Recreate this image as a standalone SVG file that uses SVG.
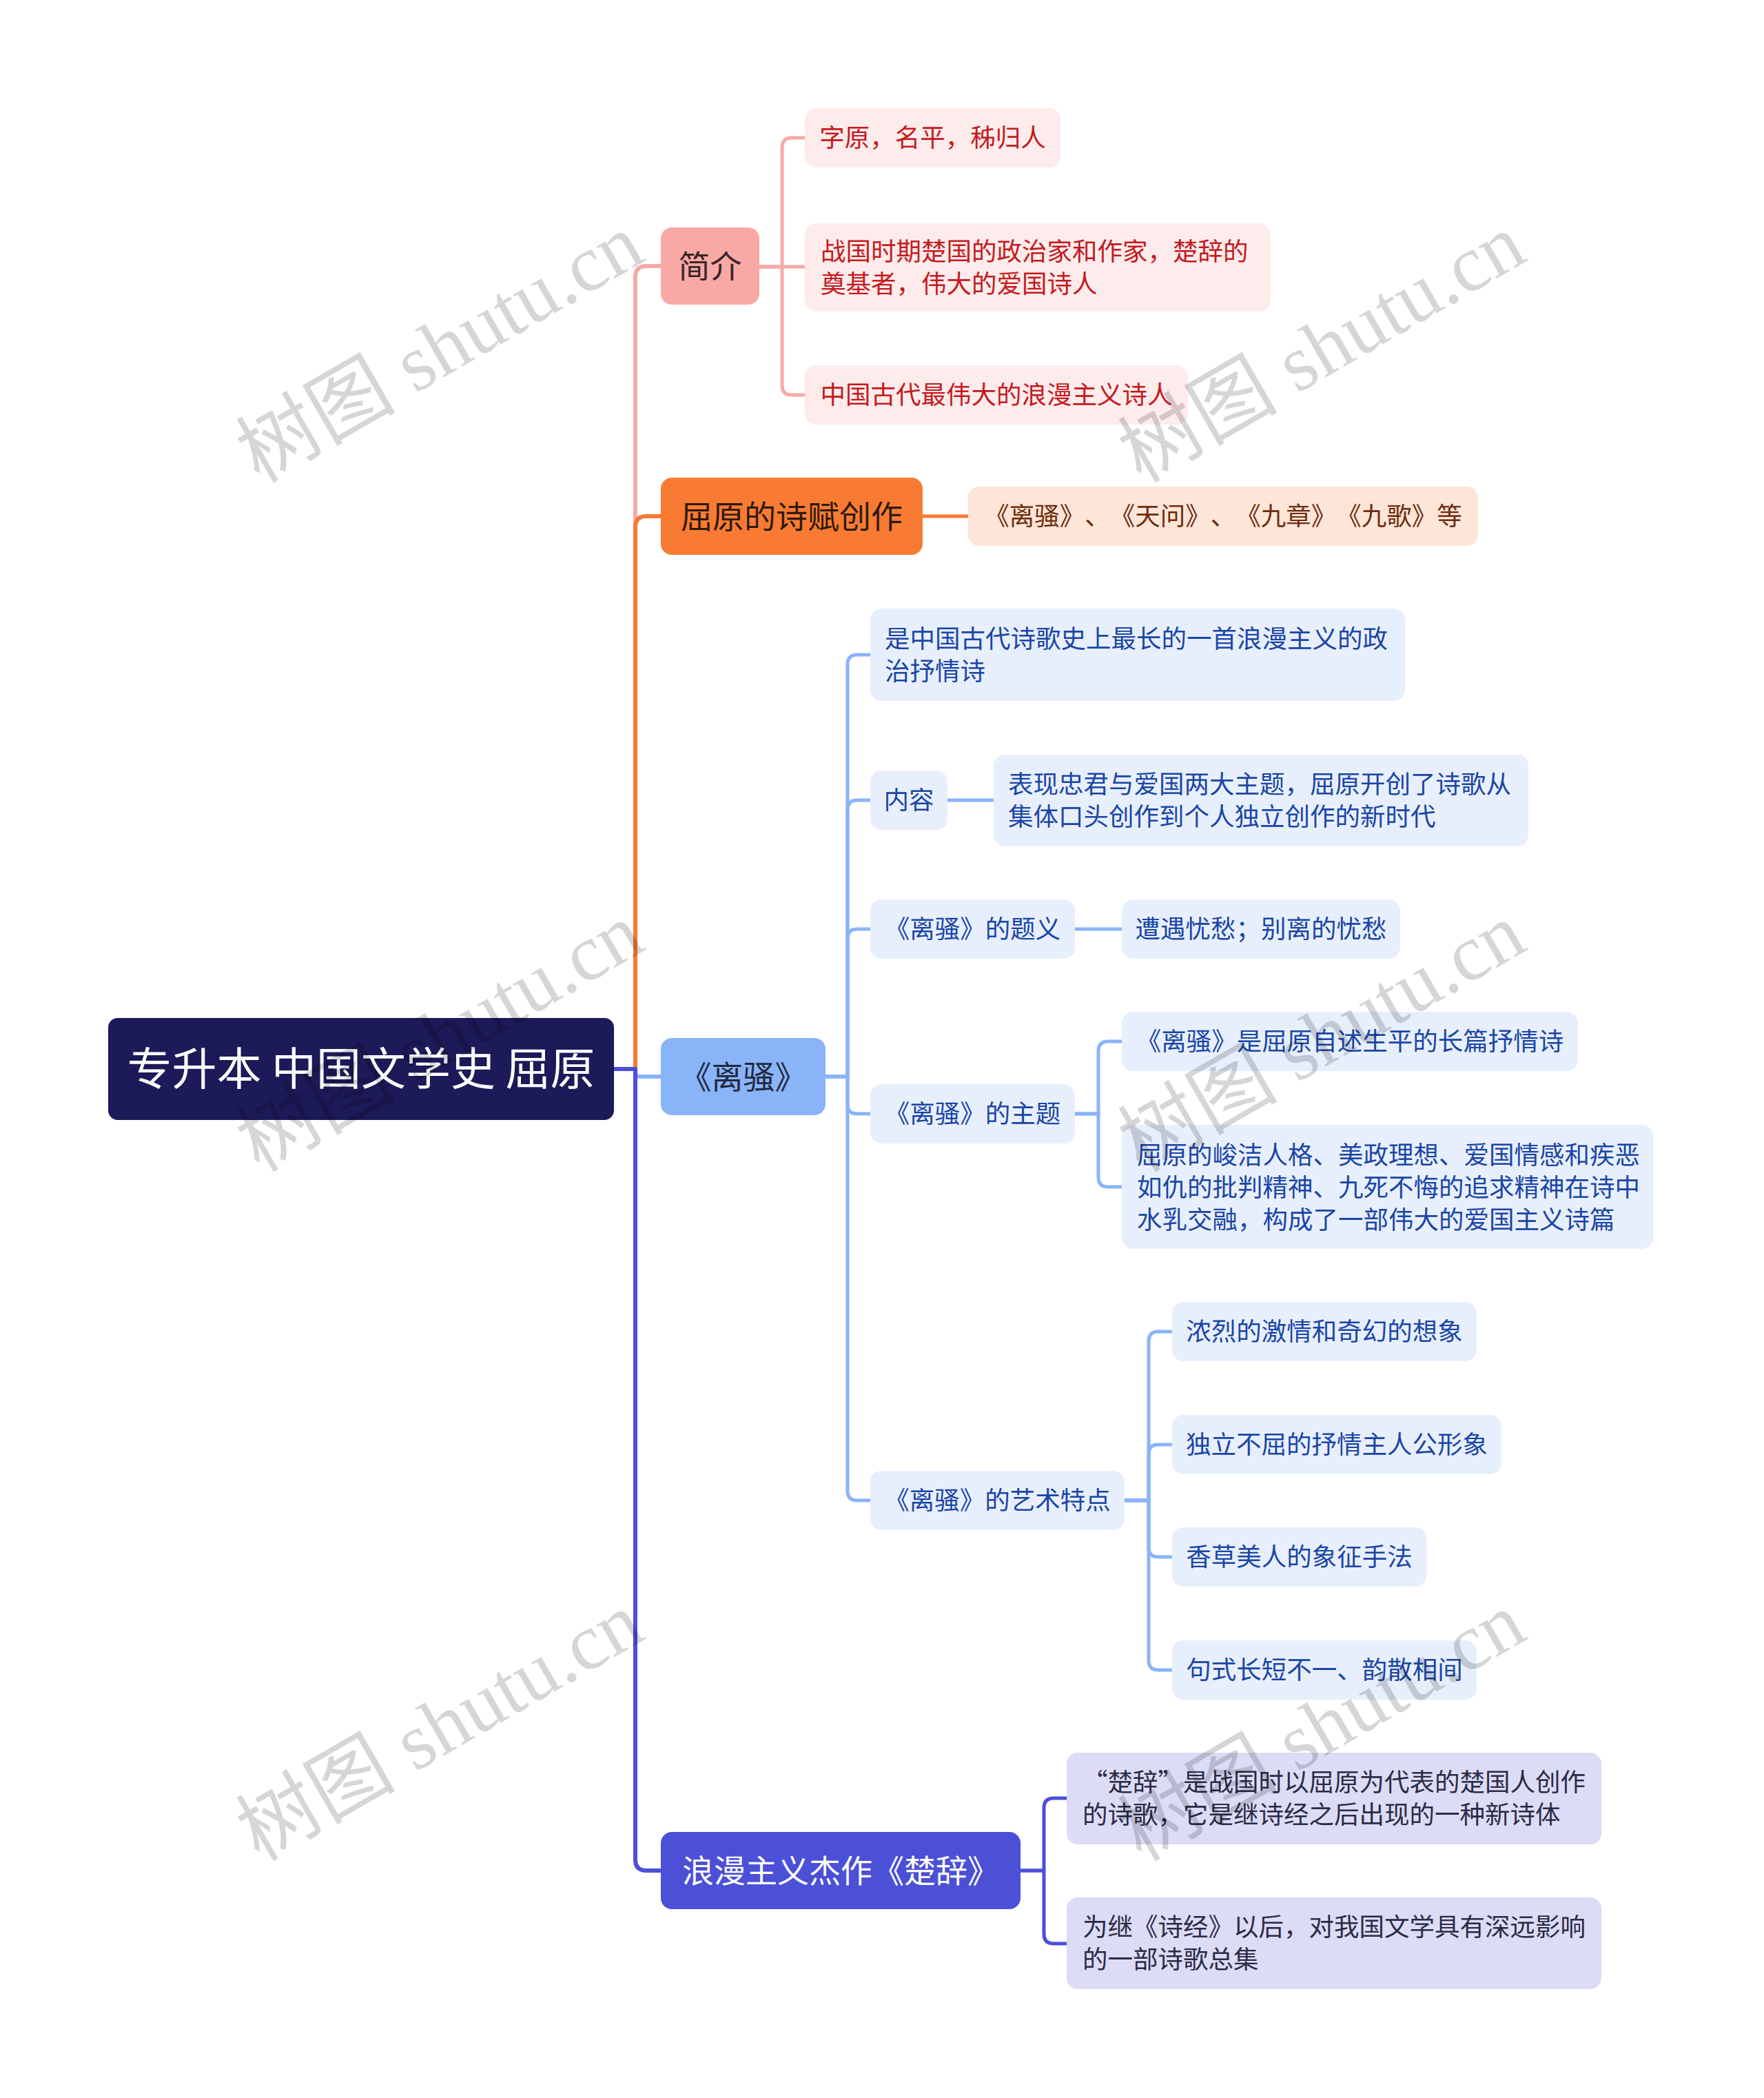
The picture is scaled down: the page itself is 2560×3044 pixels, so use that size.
<svg xmlns="http://www.w3.org/2000/svg" width="2560" height="3044" viewBox="0 0 2560 3044">
<style>
text{font-family:"Noto Sans CJK SC","Noto Sans",sans-serif;text-spacing-trim:space-all;}
.c1{fill:none;stroke-width:6;stroke-linejoin:round}
.c2{fill:none;stroke-width:5;stroke-linejoin:round}
.pk{stroke:#f6aaa7}.or{stroke:#f67a34}.bl{stroke:#8ab4f8}.ind{stroke:#4b50d7}
.root{fill:#1c1a58}
.t0{font-size:65px;fill:#ffffff}
.t1{font-size:46px}
.t2{font-size:36.5px}
.lp{fill:#fdeceb}.lo{fill:#fde5d7}.lb{fill:#e8effc}.ll{fill:#dcdcf6}
.tp{fill:#c41a1f}.to{fill:#6e2c0e}.tb{fill:#1a46a6}.tl{fill:#2b2b45}
.wm{font-family:"Liberation Serif","Noto Sans CJK SC",serif;font-size:116px;fill:#000;fill-opacity:0.16}
</style>
<rect width="2560" height="3044" fill="#ffffff"/>
<g id="connectors">
<path class="c1 pk" d="M891,1551 H922 V402 Q922,386 938,386 H959"/>
<path class="c1 or" d="M891,1551 H922 V765 Q922,749 938,749 H959"/>
<path class="c1 bl" d="M891,1551 H922 V1556 Q922,1562 928,1562 H959"/>
<path class="c1 ind" d="M891,1551 H922 V2698 Q922,2714 938,2714 H959"/>
<path class="c2 pk" d="M1102,387 H1135 V214 Q1135,200 1149,200 H1168"/>
<path class="c2 pk" d="M1102,387 H1168"/>
<path class="c2 pk" d="M1102,387 H1135 V559 Q1135,573 1149,573 H1168"/>
<path class="c2 or" d="M1339,749 H1405"/>
<path class="c2 bl" d="M1198,1562 H1230 V964 Q1230,950 1244,950 H1263"/>
<path class="c2 bl" d="M1198,1562 H1230 V1175 Q1230,1161 1244,1161 H1263"/>
<path class="c2 bl" d="M1198,1562 H1230 V1362 Q1230,1348 1244,1348 H1263"/>
<path class="c2 bl" d="M1198,1562 H1230 V1602 Q1230,1616 1244,1616 H1263"/>
<path class="c2 bl" d="M1198,1562 H1230 V2163 Q1230,2177 1244,2177 H1263"/>
<path class="c2 bl" d="M1375,1161 H1442"/>
<path class="c2 bl" d="M1560,1348 H1628"/>
<path class="c2 bl" d="M1560,1616 H1594 V1525 Q1594,1511 1608,1511 H1628"/>
<path class="c2 bl" d="M1560,1616 H1594 V1708 Q1594,1722 1608,1722 H1628"/>
<path class="c2 bl" d="M1632,2177 H1667 V1946 Q1667,1932 1681,1932 H1701"/>
<path class="c2 bl" d="M1632,2177 H1667 V2110 Q1667,2096 1681,2096 H1701"/>
<path class="c2 bl" d="M1632,2177 H1667 V2245 Q1667,2259 1681,2259 H1701"/>
<path class="c2 bl" d="M1632,2177 H1667 V2409 Q1667,2423 1681,2423 H1701"/>
<path class="c2 ind" d="M1481,2714 H1515 V2623 Q1515,2609 1529,2609 H1548"/>
<path class="c2 ind" d="M1481,2714 H1515 V2806 Q1515,2820 1529,2820 H1548"/>
</g>
<g id="root">
<rect class="root" x="157" y="1477" width="734" height="148" rx="14"/>
<text class="t0" x="524" y="1574" text-anchor="middle">专升本 中国文学史 屈原</text>
</g>
<g id="n-jianjie">
<rect x="959" y="330" width="143" height="112" rx="16" fill="#f8a9a6"/>
<text class="t1" x="1030.5" y="402.5" text-anchor="middle" fill="#3a2626">简介</text>
</g>
<g id="n-shifu">
<rect x="959" y="693" width="380" height="112" rx="16" fill="#f97b33"/>
<text class="t1" x="1149" y="765.5" text-anchor="middle" fill="#2d1a0c">屈原的诗赋创作</text>
</g>
<g id="n-lisao">
<rect x="959" y="1506" width="239" height="112" rx="16" fill="#8ab4f8"/>
<text class="t1" x="1078.5" y="1578.5" text-anchor="middle" fill="#1f2940">《离骚》</text>
</g>
<g id="n-chuci">
<rect x="959" y="2658" width="522" height="112" rx="16" fill="#4b50d7"/>
<text class="t1" x="1220" y="2730.5" text-anchor="middle" fill="#ffffff">浪漫主义杰作《楚辞》</text>
</g>
<g id="n-p1">
<rect class="lp" x="1168" y="157" width="371" height="86" rx="16"/>
<text class="t2 tp" x="1353.5" y="213" text-anchor="middle">字原，名平，秭归人</text>
</g>
<g id="n-p2">
<rect class="lp" x="1168" y="324" width="676" height="128" rx="16"/>
<text class="t2 tp" x="1191" y="377.5">战国时期楚国的政治家和作家，楚辞的</text>
<text class="t2 tp" x="1191" y="424.5">奠基者，伟大的爱国诗人</text>
</g>
<g id="n-p3">
<rect class="lp" x="1168" y="530" width="556" height="86" rx="16"/>
<text class="t2 tp" x="1446" y="586" text-anchor="middle">中国古代最伟大的浪漫主义诗人</text>
</g>
<g id="n-o1">
<rect class="lo" x="1405" y="706" width="740" height="86" rx="16"/>
<text class="t2 to" x="1775" y="762" text-anchor="middle">《离骚》、《天问》、《九章》《九歌》等</text>
</g>
<g id="n-b1">
<rect class="lb" x="1263" y="883" width="776" height="134" rx="16"/>
<text class="t2 tb" x="1284" y="939.5">是中国古代诗歌史上最长的一首浪漫主义的政</text>
<text class="t2 tb" x="1284" y="986.5">治抒情诗</text>
</g>
<g id="n-neirong">
<rect class="lb" x="1263" y="1118" width="112" height="86" rx="16"/>
<text class="t2 tb" x="1319" y="1174" text-anchor="middle">内容</text>
</g>
<g id="n-neirong-c">
<rect class="lb" x="1442" y="1095" width="776" height="133" rx="16"/>
<text class="t2 tb" x="1463" y="1151">表现忠君与爱国两大主题，屈原开创了诗歌从</text>
<text class="t2 tb" x="1463" y="1198">集体口头创作到个人独立创作的新时代</text>
</g>
<g id="n-tiyi">
<rect class="lb" x="1263" y="1305" width="297" height="86" rx="16"/>
<text class="t2 tb" x="1411.5" y="1361" text-anchor="middle">《离骚》的题义</text>
</g>
<g id="n-tiyi-c">
<rect class="lb" x="1628" y="1305" width="404" height="86" rx="16"/>
<text class="t2 tb" x="1830" y="1361" text-anchor="middle">遭遇忧愁；别离的忧愁</text>
</g>
<g id="n-zhuti">
<rect class="lb" x="1263" y="1573" width="297" height="86" rx="16"/>
<text class="t2 tb" x="1411.5" y="1629" text-anchor="middle">《离骚》的主题</text>
</g>
<g id="n-zhuti-c1">
<rect class="lb" x="1628" y="1468" width="662" height="86" rx="16"/>
<text class="t2 tb" x="1959" y="1524" text-anchor="middle">《离骚》是屈原自述生平的长篇抒情诗</text>
</g>
<g id="n-zhuti-c2">
<rect class="lb" x="1628" y="1632" width="771" height="180" rx="16"/>
<text class="t2 tb" x="1650" y="1688.5">屈原的峻洁人格、美政理想、爱国情感和疾恶</text>
<text class="t2 tb" x="1650" y="1735.5">如仇的批判精神、九死不悔的追求精神在诗中</text>
<text class="t2 tb" x="1650" y="1782.5">水乳交融，构成了一部伟大的爱国主义诗篇</text>
</g>
<g id="n-yishu">
<rect class="lb" x="1263" y="2134" width="369" height="86" rx="16"/>
<text class="t2 tb" x="1447.5" y="2190" text-anchor="middle">《离骚》的艺术特点</text>
</g>
<g id="n-yishu-c1">
<rect class="lb" x="1701" y="1889" width="442" height="86" rx="16"/>
<text class="t2 tb" x="1922" y="1945" text-anchor="middle">浓烈的激情和奇幻的想象</text>
</g>
<g id="n-yishu-c2">
<rect class="lb" x="1701" y="2053" width="478" height="86" rx="16"/>
<text class="t2 tb" x="1940" y="2109" text-anchor="middle">独立不屈的抒情主人公形象</text>
</g>
<g id="n-yishu-c3">
<rect class="lb" x="1701" y="2216" width="369" height="86" rx="16"/>
<text class="t2 tb" x="1885.5" y="2272" text-anchor="middle">香草美人的象征手法</text>
</g>
<g id="n-yishu-c4">
<rect class="lb" x="1701" y="2380" width="442" height="86" rx="16"/>
<text class="t2 tb" x="1922" y="2436" text-anchor="middle">句式长短不一、韵散相间</text>
</g>
<g id="n-chuci-c1">
<rect class="ll" x="1548" y="2543" width="776" height="133" rx="16"/>
<text class="t2 tl" x="1571" y="2599">“楚辞”是战国时以屈原为代表的楚国人创作</text>
<text class="t2 tl" x="1571" y="2646">的诗歌，它是继诗经之后出现的一种新诗体</text>
</g>
<g id="n-chuci-c2">
<rect class="ll" x="1548" y="2753" width="776" height="133" rx="16"/>
<text class="t2 tl" x="1571" y="2809">为继《诗经》以后，对我国文学具有深远影响</text>
<text class="t2 tl" x="1571" y="2856">的一部诗歌总集</text>
</g>
<g id="watermarks">
<text class="wm" x="376" y="702" transform="rotate(-30 376 702)">树图 shutu.cn</text>
<text class="wm" x="1656" y="702" transform="rotate(-30 1656 702)">树图 shutu.cn</text>
<text class="wm" x="376" y="1702" transform="rotate(-30 376 1702)">树图 shutu.cn</text>
<text class="wm" x="1656" y="1702" transform="rotate(-30 1656 1702)">树图 shutu.cn</text>
<text class="wm" x="376" y="2702" transform="rotate(-30 376 2702)">树图 shutu.cn</text>
<text class="wm" x="1656" y="2702" transform="rotate(-30 1656 2702)">树图 shutu.cn</text>
</g>
</svg>
